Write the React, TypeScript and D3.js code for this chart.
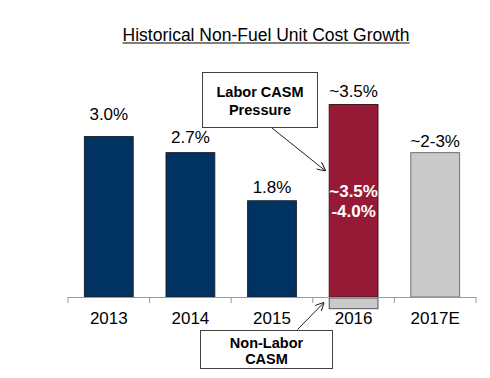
import React from "react";
import * as d3 from "d3";

const categories = ["2013", "2014", "2015", "2016", "2017E"];
const values = [3.0, 2.7, 1.8, 3.6, 2.7];
const valueLabels = ["3.0%", "2.7%", "1.8%", "~3.5%", "~2-3%"];
const barTypes = ["hist", "hist", "hist", "labor", "est"];
const nonLaborCategory = "2016";
const nonLaborValue = -0.2;
const innerLabels = ["~3.5%", "-4.0%"];
const title = "Historical Non-Fuel Unit Cost Growth";

const W = 490;
const H = 378;
const FONT = "'Liberation Sans', Arial, Helvetica, sans-serif";

const fills: Record<string, string> = { hist: "#003262", labor: "#961A36", est: "#CACACA" };
const strokes: Record<string, string> = { hist: "#1a2330", labor: "#3a1a20", est: "#707070" };
const labelGap = [17, 10, 8, 8, 6];

export default function App() {
  const x = d3.scaleBand<string>().domain(categories).range([68, 476]).paddingInner(0.39).paddingOuter(0.195);
  const y = d3.scaleLinear().domain([0, 3]).range([297, 136.6]);
  const step = x.step();
  const bw = x.bandwidth();
  const y0 = y(0);
  const boundaries = d3.range(categories.length + 1).map((i) => 68 + i * step);
  const nlx = x(nonLaborCategory)!;

  return (
    <div style={{ position: "absolute", left: 0, top: 0 }}>
      <svg width={W} height={H} style={{ display: "block", background: "#fff" }} fontFamily={FONT}>
        <defs>
          <marker id="arr" viewBox="0 0 10 10" refX="9" refY="5" markerWidth="9" markerHeight="9" orient="auto" markerUnits="userSpaceOnUse">
            <path d="M0,0 L10,5 L0,10" fill="none" stroke="#222" strokeWidth="1.2" />
          </marker>
        </defs>
        <text x={266} y={40.5} textAnchor="middle" fontSize={17.5} fill="#000">
          {title}
        </text>
        <line x1={122.5} x2={409.5} y1={43} y2={43} stroke="#000" strokeWidth={1} />

        {categories.map((c, i) => {
          const t = barTypes[i];
          const top = y(values[i]);
          return (
            <g key={c}>
              <rect x={x(c)! + 0.5} y={top} width={bw - 1} height={y0 - top} fill={fills[t]} stroke={strokes[t]} strokeWidth={1} />
              <text x={x(c)! + bw / 2} y={top - labelGap[i]} textAnchor="middle" fontSize={17} fill="#000">
                {valueLabels[i]}
              </text>
              <text x={x(c)! + bw / 2} y={324} textAnchor="middle" fontSize={17} fill="#000">
                {c}
              </text>
            </g>
          );
        })}

        <rect x={nlx + 0.5} y={y0 + 1} width={bw - 1} height={y(nonLaborValue) - y0} fill="#CACACA" stroke="#555" strokeWidth={1} />

        {innerLabels.map((l, i) => (
          <text key={l} x={nlx + bw / 2} y={196.5 + i * 20} textAnchor="middle" fontSize={17} fontWeight="bold" fill="#fff">
            {l}
          </text>
        ))}

        <line x1={68} x2={476} y1={y0 + 0.5} y2={y0 + 0.5} stroke="#999" strokeWidth={1} />
        {boundaries.map((b, i) => (
          <line key={i} x1={b} x2={b} y1={y0} y2={y0 + 6} stroke="#999" strokeWidth={1} />
        ))}

        <rect x={202.5} y={72.5} width={115} height={55} fill="#fff" stroke="#444" strokeWidth={1} />
        <text x={260} y={96.5} textAnchor="middle" fontSize={14.5} fontWeight="bold" fill="#000">Labor CASM</text>
        <text x={260} y={115} textAnchor="middle" fontSize={14.5} fontWeight="bold" fill="#000">Pressure</text>
        <line x1={272} y1={128} x2={325} y2={170.5} stroke="#222" strokeWidth={1} markerEnd="url(#arr)" />

        <rect x={200.5} y={330.5} width={132} height={38} fill="#fff" stroke="#444" strokeWidth={1} />
        <text x={266.5} y={347.5} textAnchor="middle" fontSize={14.5} fontWeight="bold" fill="#000">Non-Labor</text>
        <text x={266.5} y={363.5} textAnchor="middle" fontSize={14.5} fontWeight="bold" fill="#000">CASM</text>
        <line x1={297.5} y1={329.5} x2={323.5} y2={303} stroke="#222" strokeWidth={1} markerEnd="url(#arr)" />
      </svg>
    </div>
  );
}
